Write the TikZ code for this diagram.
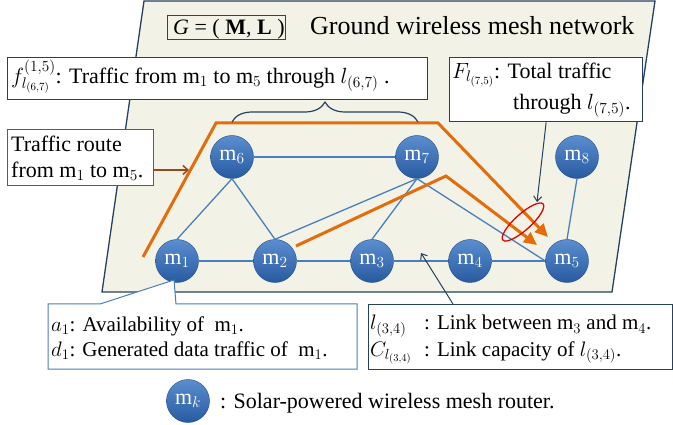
\RequirePackage{fix-cm}
\documentclass[tikz,border=0pt]{standalone}
\usepackage{fontspec}
\setmainfont{Liberation Serif}
\usetikzlibrary{shapes.geometric,arrows.meta,decorations.pathreplacing,calc}
\definecolor{navy}{RGB}{38,64,97}
\definecolor{lineblue}{RGB}{74,126,187}
\definecolor{orng}{RGB}{228,108,10}
\definecolor{bgc}{RGB}{242,243,230}
\definecolor{rtbrown}{RGB}{152,72,30}
\definecolor{nodetop}{RGB}{90,142,207}
\definecolor{nodebot}{RGB}{40,90,160}
\begin{document}
\begin{tikzpicture}[x=1pt,y=-1pt,
  router/.style={circle, minimum size=43pt, inner sep=0pt, top color=nodetop, bottom color=nodebot, draw=nodebot!85!black, line width=0.4pt, text=white, font=\fontsize{22}{22}\selectfont},
  link/.style={lineblue, line width=1.3pt},
  route/.style={orng, line width=3pt, -{Triangle[length=13pt,width=12pt]}},
  txt/.style={anchor=base west, inner sep=0pt, font=\fontsize{22}{26}\selectfont},
  smalltxt/.style={anchor=base west, inner sep=0pt, font=\fontsize{21}{25}\selectfont},
  box/.style={draw=navy, line width=1.3pt, fill=white, anchor=north west, inner sep=0pt},
  ptr/.style={navy, line width=1pt, -{Straight Barb[length=5pt,width=8pt]}}
]
\useasboundingbox (0,0) rectangle (673,425);
% ground plane
\draw[navy, line width=1.3pt, fill=bgc] (144,1) -- (655,1) -- (612,292) -- (102,292) -- cycle;
% title
\node[draw=black!75, line width=0.8pt, anchor=north west, minimum width=118pt, minimum height=24pt, inner sep=0pt] (gbox) at (167,15) {};
\node[txt] (gtxt) at (173,35) {\textit{G} = ( \textbf{M}, \textbf{L} )};
\node[anchor=base west, inner sep=0pt, font=\fontsize{26}{30}\selectfont] (title) at (310,35) {Ground wireless mesh network};
% routers
\node[router] (m1) at (177,261) {m$_1$};
\node[router] (m2) at (275,261) {m$_2$};
\node[router] (m3) at (372,261) {m$_3$};
\node[router] (m4) at (470,261) {m$_4$};
\node[router] (m5) at (567,261) {m$_5$};
\node[router] (m6) at (232,157) {m$_6$};
\node[router] (m7) at (417,157) {m$_7$};
\node[router] (m8) at (577,157) {m$_8$};
% links
\draw[link] (m1) -- (m2);
\draw[link] (m2) -- (m3);
\draw[link] (m3) -- (m4);
\draw[link] (m4) -- (m5);
\draw[link] (m6) -- (m7);
\draw[link] (m6.south) -- (m1.north);
\draw[link] (m6.south) -- (m2.north);
\draw[link] (m7.south) -- (m2.north);
\draw[link] (m7.south) -- (m3.north);
\draw[link] (m7.south) -- (m5.west);
\draw[link] (m8.south) -- (m5.north);
% routes
\coordinate (r1a) at (143,257);
\coordinate (r1b) at (216,123);
\coordinate (r1c) at (438,123);
\coordinate (r1d) at (548,237);
\draw[route] (r1a) -- (r1b) -- (r1c) -- (r1d);
\coordinate (r2a) at (296,246);
\coordinate (r2b) at (446,176);
\coordinate (r2c) at (537,245);
\draw[route] (r2a) -- (r2b) -- (r2c);
% ellipse
\node[ellipse, draw=red!90!black, line width=1.3pt, minimum width=54pt, minimum height=16pt, inner sep=0pt, rotate=42] (ell) at (523,222) {};
% f box
\node[box, minimum width=420pt, minimum height=42pt] (fbox) at (7,57) {};
\node[txt] (ftxt) at (11,83.3) {$f^{(1,5)}_{l_{(6,7)}}$: Traffic from m$_1$ to m$_5$ through $l_{(6,7)}$ .};
\coordinate (brl) at (232,122);
\coordinate (brr) at (418,122);
\draw[navy, line width=1.2pt, decorate, decoration={brace, amplitude=20pt}] (brl) -- (brr);
% F box
\node[box, minimum width=193pt, minimum height=64pt] (Fbox) at (449,57) {};
\node[txt] (Ftxt1) at (452,78.3) {$F_{l_{(7,5)}}$: Total traffic};
\node[txt] (Ftxt2) at (513,110) {through $l_{(7,5)}$.};
\coordinate (elltop) at (537,202);
\draw[ptr] (Fbox.south) -- (elltop);
% traffic route box
\node[box, draw=rtbrown, minimum width=146pt, minimum height=56pt] (trbox) at (7,129) {};
\node[txt] (trtxt1) at (11,151.7) {Traffic route};
\node[txt] (trtxt2) at (11,177.3) {from m$_1$ to m$_5$.};
\coordinate (trtip) at (189,170);
\draw[rtbrown, line width=1.5pt, -{Straight Barb[length=5pt,width=9pt]}] (trbox.east |- trtip) -- (trtip);
% a/d callout
\draw[lineblue, line width=1pt, fill=white] (48,304) -- (100,304) -- (174,280) -- (176,304) -- (357,304) -- (357,369) -- (48,369) -- cycle;
\node[smalltxt] (atxt) at (51,331.7) {$a_1$: Availability of\ \ m$_1$.};
\node[smalltxt] (dtxt) at (51,356.7) {$d_1$: Generated data traffic of\ \ m$_1$.};
% l box
\node[box, minimum width=304pt, minimum height=65pt] (lbox) at (368,304) {};
\node[smalltxt] (ltxt1) at (370,330) {$l_{(3,4)}$};
\node[smalltxt] (ltxt1b) at (424,330) {: Link between m$_3$ and m$_4$.};
\node[smalltxt] (ltxt2) at (370,356) {$C_{l_{(3,4)}}$};
\node[smalltxt] (ltxt2b) at (424,356) {: Link capacity of $l_{(3,4)}$.};
\coordinate (l34) at (421,253);
\draw[ptr] ($(lbox.north west)+(85,0)$) -- (l34);
% legend
\node[router] (mk) at (188,401) {m$_k$};
\node[txt] (legtxt) at (220,408) {: Solar-powered wireless mesh router.};
\end{tikzpicture}
\end{document}
